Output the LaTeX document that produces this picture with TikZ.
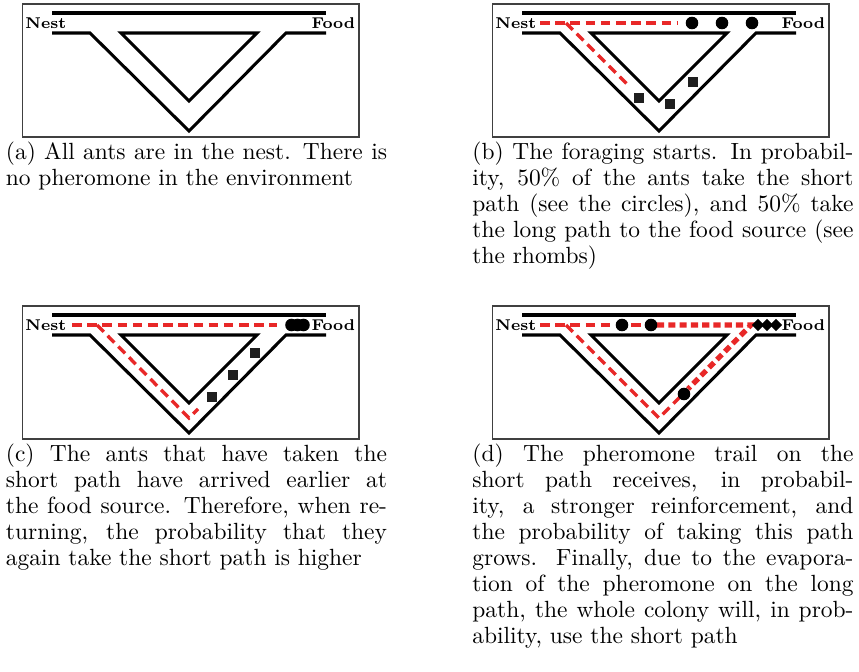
\documentclass[tikz,border=0pt]{standalone}
\usetikzlibrary{shapes.geometric}
\definecolor{antred}{RGB}{232,40,40}
\newlength\capw
\setlength\capw{175.6pt}
\hbadness=10000
\emergencystretch=2em
\tikzset{
 road/.style={line width=1.4pt, black, line join=miter},
 panelframe/.style={line width=0.7pt, draw=black!75},
 trail/.style={antred, line width=1.55pt, dash pattern=on 4.4pt off 2.6pt},
 strongtrail/.style={antred, line width=2.4pt, dash pattern=on 3.3pt off 1.9pt},
 antc/.style={circle, fill=black, inner sep=0pt, minimum size=5.8pt},
 antsq/.style={rectangle, fill=black!88, inner sep=0pt, minimum size=4.8pt},
 antdia/.style={diamond, fill=black, inner sep=0pt, minimum width=5.8pt, minimum height=5.8pt},
 lbl/.style={font=\fontsize{7.2}{8}\selectfont\bfseries, inner sep=0pt},
 captext/.style={anchor=north west, inner sep=0pt, text width=\capw, align=justify, font=\fontsize{10.8}{12}\selectfont}
}
\newcommand\antpanel[1]{%
 \draw[panelframe] (22.7,4) rectangle (359,137);
 \draw[road] (52,13) -- (326,13);
 \draw[road] (52,33) -- (90,33) -- (189,131) -- (286,33) -- (326,33);
 \draw[road] (121,33) -- (257,33) -- (189,101) -- cycle;
 \node[lbl, anchor=base west] (#1nest) at (25,28.5) {Nest};
 \node[lbl, anchor=base east] (#1food) at (355.5,28.5) {Food};
}
\begin{document}
\begin{tikzpicture}[x=0.4608pt, y=-0.4608pt]
\useasboundingbox (0,0) rectangle (859,672);
% (a)
\begin{scope}
 \antpanel{a}
\end{scope}
% (b)
\begin{scope}[shift={(470,0)}]
 \antpanel{b}
 \draw[trail] (70,23) -- (208,23);
 \draw[trail] (96,23) -- (159,86);
 \node[antc] (bc1) at (222,23) {};
 \node[antc] (bc2) at (252,23) {};
 \node[antc] (bc3) at (282,23) {};
 \node[antsq] (bs1) at (169,98) {};
 \node[antsq] (bs2) at (200,104) {};
 \node[antsq] (bs3) at (223,82) {};
\end{scope}
% (c)
\begin{scope}[shift={(0,302)}]
 \antpanel{c}
 \draw[trail] (72,23) -- (277,23);
 \draw[trail] (97,23) -- (189,116) -- (198,107);
 \node[antc] (cc1) at (291.5,23) {};
 \node[antc] (cc2) at (297.5,23) {};
 \node[antc] (cc3) at (303.5,23) {};
 \node[antsq] (cs1) at (255,51) {};
 \node[antsq] (cs2) at (233,73) {};
 \node[antsq] (cs3) at (212,95) {};
\end{scope}
% (d)
\begin{scope}[shift={(470,302)}]
 \antpanel{d}
 \draw[trail] (70,23) -- (187,23);
 \draw[trail] (96,23) -- (189,116) -- (212,93);
 \draw[strongtrail] (187,23) -- (281,23) -- (218,87);
 \node[antc] (dc1) at (152,23) {};
 \node[antc] (dc2) at (181,23) {};
 \node[antc] (dc3) at (214,92) {};
 \node[antdia] (dd1) at (288,23) {};
 \node[antdia] (dd2) at (297,23) {};
 \node[antdia] (dd3) at (306,23) {};
\end{scope}
% captions
\node[captext] (capa) at (5.5,141) {(a) All ants are in the nest. There is\linebreak no pheromone in the environment};
\node[captext] (capb) at (472,141) {(b) The foraging starts. In probabil-\linebreak ity, 50\% of the ants take the short\linebreak path (see the circles), and 50\% take\linebreak the long path to the food source (see\linebreak the rhombs)};
\node[captext] (capc) at (5.5,443) {(c) The ants that have taken the\linebreak short path have arrived earlier at\linebreak the food source. Therefore, when re-\linebreak turning, the probability that they\linebreak again take the short path is higher};
\node[captext] (capd) at (472,443) {(d) The pheromone trail on the\linebreak short path receives, in probabil-\linebreak ity, a stronger reinforcement, and\linebreak the probability of taking this path\linebreak grows. Finally, due to the evapora-\linebreak tion of the pheromone on the long\linebreak path, the whole colony will, in prob-\linebreak ability, use the short path};
\end{tikzpicture}
\end{document}
